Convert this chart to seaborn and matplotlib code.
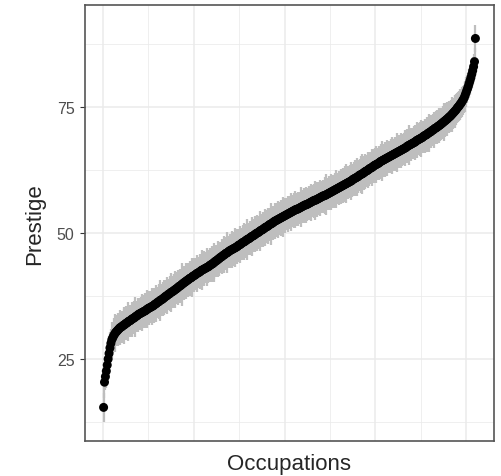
import matplotlib
matplotlib.use("Agg")
import matplotlib.pyplot as plt
import numpy as np
import pandas as pd
import seaborn as sns
from matplotlib.ticker import MultipleLocator, NullFormatter

# Prestige of each occupation, sorted (one per occupation)
prestige = [
    15.4, 20.4, 21.5, 22.6, 23.8, 25.0, 26.1, 27.2, 28.1, 28.8,
    29.2, 29.6, 29.9, 30.2, 30.4, 30.6, 30.8, 31.0, 31.2, 31.3,
    31.4, 31.6, 31.7, 31.8, 32.0, 32.1, 32.2, 32.4, 32.5, 32.6,
    32.7, 32.9, 33.0, 33.1, 33.2, 33.4, 33.5, 33.6, 33.8, 33.9,
    34.0, 34.1, 34.2, 34.3, 34.4, 34.5, 34.6, 34.7, 34.9, 35.0,
    35.1, 35.2, 35.3, 35.4, 35.5, 35.6, 35.8, 35.9, 36.0, 36.2,
    36.3, 36.4, 36.6, 36.7, 36.8, 36.9, 37.1, 37.2, 37.4, 37.5,
    37.6, 37.8, 37.9, 38.0, 38.2, 38.3, 38.4, 38.5, 38.7, 38.8,
    38.9, 39.1, 39.2, 39.4, 39.5, 39.6, 39.8, 39.9, 40.1, 40.2,
    40.3, 40.5, 40.6, 40.7, 40.9, 41.0, 41.1, 41.2, 41.4, 41.5,
    41.6, 41.7, 41.9, 42.0, 42.1, 42.2, 42.3, 42.5, 42.6, 42.7,
    42.8, 42.9, 43.0, 43.1, 43.2, 43.3, 43.4, 43.6, 43.7, 43.8,
    43.9, 44.1, 44.2, 44.4, 44.5, 44.6, 44.8, 44.9, 45.1, 45.2,
    45.3, 45.5, 45.6, 45.7, 45.9, 46.0, 46.1, 46.2, 46.4, 46.5,
    46.6, 46.7, 46.8, 46.9, 47.0, 47.1, 47.2, 47.3, 47.5, 47.6,
    47.7, 47.8, 48.0, 48.1, 48.2, 48.3, 48.4, 48.6, 48.7, 48.8,
    48.9, 49.0, 49.2, 49.3, 49.4, 49.5, 49.6, 49.8, 49.9, 50.0,
    50.1, 50.2, 50.4, 50.5, 50.6, 50.7, 50.8, 51.0, 51.1, 51.2,
    51.3, 51.4, 51.6, 51.7, 51.8, 51.9, 52.0, 52.2, 52.3, 52.4,
    52.5, 52.6, 52.7, 52.8, 52.9, 53.0, 53.1, 53.2, 53.3, 53.4,
    53.5, 53.6, 53.7, 53.8, 53.9, 54.0, 54.1, 54.2, 54.3, 54.4,
    54.5, 54.6, 54.7, 54.7, 54.8, 54.9, 55.0, 55.1, 55.2, 55.3,
    55.4, 55.5, 55.6, 55.6, 55.7, 55.8, 55.9, 56.0, 56.1, 56.2,
    56.3, 56.4, 56.5, 56.5, 56.6, 56.7, 56.8, 56.9, 57.0, 57.1,
    57.2, 57.3, 57.4, 57.4, 57.5, 57.6, 57.7, 57.8, 57.9, 58.0,
    58.1, 58.2, 58.3, 58.4, 58.5, 58.6, 58.7, 58.8, 58.9, 59.0,
    59.1, 59.2, 59.3, 59.4, 59.5, 59.6, 59.7, 59.8, 59.9, 60.0,
    60.1, 60.2, 60.3, 60.4, 60.6, 60.7, 60.8, 60.9, 61.0, 61.1,
    61.2, 61.4, 61.5, 61.6, 61.7, 61.8, 61.9, 62.1, 62.2, 62.3,
    62.4, 62.5, 62.7, 62.8, 62.9, 63.0, 63.1, 63.3, 63.4, 63.5,
    63.6, 63.7, 63.8, 63.9, 64.1, 64.2, 64.3, 64.4, 64.5, 64.6,
    64.7, 64.8, 64.9, 65.0, 65.1, 65.2, 65.3, 65.4, 65.5, 65.6,
    65.7, 65.8, 65.9, 66.0, 66.1, 66.2, 66.3, 66.4, 66.5, 66.6,
    66.7, 66.8, 66.9, 67.0, 67.2, 67.3, 67.4, 67.5, 67.6, 67.7,
    67.8, 67.9, 68.0, 68.1, 68.3, 68.4, 68.5, 68.6, 68.7, 68.8,
    68.9, 69.0, 69.2, 69.3, 69.4, 69.5, 69.6, 69.8, 69.9, 70.0,
    70.1, 70.3, 70.4, 70.5, 70.7, 70.8, 70.9, 71.0, 71.2, 71.3,
    71.4, 71.6, 71.7, 71.9, 72.0, 72.2, 72.3, 72.5, 72.6, 72.8,
    73.0, 73.1, 73.3, 73.5, 73.7, 73.9, 74.1, 74.3, 74.5, 74.8,
    75.0, 75.2, 75.5, 75.7, 76.0, 76.3, 76.6, 77.0, 77.5, 78.0,
    78.5, 79.0, 79.6, 80.2, 80.8, 81.5, 82.2, 83.0, 84.0, 88.6,
]

# Half-width of each grey interval (estimated from the jagged band)
half_width = [
    2.9, 3.1, 2.7, 3.3, 3.0, 2.8, 3.4, 3.1, 2.9, 3.6,
    3.0, 2.7, 3.2, 3.8, 2.9, 3.1, 3.3, 2.8, 3.5, 3.0,
    3.2, 2.9, 3.7, 3.1, 2.8, 3.4, 3.0, 3.9, 2.9, 3.2,
    3.1, 3.5, 2.8, 3.0, 3.3, 4.0, 3.1, 2.9, 3.4, 3.2,
    2.9, 3.3, 3.6, 3.0, 3.2, 2.8, 3.5, 3.1, 3.8, 3.0,
    3.3, 2.9, 3.1, 3.7, 3.0, 3.4, 3.2, 2.9, 3.6, 3.1,
    3.0, 3.4, 4.1, 3.1, 2.9, 3.3, 3.0, 3.5, 3.2, 2.8,
    3.6, 3.1, 3.0, 3.4, 3.9, 3.2, 2.9, 3.3, 3.1, 3.7,
    3.0, 3.2, 3.5, 2.9, 3.3, 3.1, 4.2, 3.0, 3.4, 3.2,
    3.1, 3.6, 3.0, 3.3, 2.9, 3.5, 3.2, 3.8, 3.0, 3.1,
    3.4, 3.0, 3.2, 3.7, 3.1, 2.9, 3.5, 3.3, 4.0, 3.1,
    3.2, 3.5, 3.0, 3.1, 3.8, 3.3, 2.9, 3.4, 3.2, 3.6,
    3.0, 3.3, 3.9, 3.1, 3.2, 3.0, 3.6, 3.4, 3.1, 2.9,
    3.5, 3.2, 3.0, 3.7, 3.3, 3.1, 4.1, 3.2, 3.0, 3.4,
    3.1, 3.6, 3.3, 2.9, 3.2, 3.8, 3.0, 3.5, 3.3, 3.1,
    3.7, 3.2, 3.0, 3.4, 3.1, 3.6, 3.3, 2.9, 4.0, 3.2,
    3.0, 3.4, 3.2, 3.8, 3.1, 3.3, 3.0, 3.6, 3.2, 3.5,
    3.3, 3.1, 3.9, 3.2, 3.0, 3.5, 3.4, 3.1, 3.7, 3.0,
    3.2, 3.6, 3.1, 3.3, 4.2, 3.0, 3.4, 3.2, 3.1, 3.5,
    3.0, 3.3, 3.7, 3.1, 3.2, 3.5, 3.0, 3.9, 3.3, 3.1,
    3.4, 3.1, 3.2, 3.6, 3.0, 3.3, 3.8, 3.1, 3.2, 3.5,
    3.1, 3.7, 3.0, 3.3, 3.4, 3.1, 3.2, 4.0, 3.0, 3.3,
    3.5, 3.2, 3.1, 3.6, 3.3, 2.9, 3.4, 3.2, 3.7, 3.0,
    3.2, 3.4, 3.9, 3.1, 3.0, 3.5, 3.3, 3.1, 3.6, 3.2,
    3.0, 3.3, 3.2, 3.7, 3.1, 4.1, 3.2, 3.0, 3.4, 3.3,
    3.6, 3.1, 3.3, 3.0, 3.5, 3.2, 3.8, 3.1, 3.0, 3.4,
    3.2, 3.5, 3.0, 3.4, 3.1, 3.3, 3.6, 3.9, 3.1, 3.2,
    3.0, 3.3, 3.7, 3.2, 3.1, 3.4, 3.0, 3.5, 3.2, 3.8,
    3.3, 3.1, 3.2, 3.6, 4.0, 3.1, 3.3, 3.0, 3.4, 3.2,
    3.1, 3.5, 3.3, 3.0, 3.2, 3.7, 3.1, 3.4, 3.0, 3.3,
    3.6, 3.2, 3.0, 3.3, 3.1, 3.5, 3.9, 3.2, 3.1, 3.4,
    3.0, 3.3, 3.6, 3.1, 3.2, 3.0, 3.4, 3.7, 3.2, 3.1,
    3.4, 3.1, 3.2, 3.8, 3.0, 3.3, 3.1, 3.5, 3.2, 3.0,
    3.2, 3.6, 3.1, 3.0, 3.4, 3.2, 4.0, 3.1, 3.3, 3.0,
    3.1, 3.3, 3.5, 3.2, 3.0, 3.6, 3.1, 3.2, 3.4, 3.7,
    3.0, 3.2, 3.1, 3.4, 3.3, 3.0, 3.5, 3.1, 3.8, 3.2,
    3.3, 3.0, 3.2, 3.6, 3.1, 3.0, 3.3, 3.4, 3.1, 3.5,
    3.1, 3.2, 3.0, 3.3, 3.7, 3.1, 3.0, 3.2, 3.4, 3.0,
    3.2, 3.0, 3.1, 3.4, 3.0, 2.9, 3.2, 3.1, 3.0, 2.9,
    3.0, 2.9, 3.1, 2.8, 3.0, 2.9, 2.8, 3.0, 2.7, 2.9,
    2.8, 2.7, 2.9, 2.8, 2.6, 2.8, 2.7, 2.6, 2.7, 2.6,
]

df = pd.DataFrame({"prestige": prestige, "hw": half_width})
df["rank"] = np.arange(1, len(df) + 1)
df["lo"] = df["prestige"] - df["hw"]
df["hi"] = df["prestige"] + df["hw"]

sns.set_style("white")
plt.rcParams["font.family"] = ["Liberation Sans", "DejaVu Sans"]

fig = plt.figure(figsize=(5.02, 4.77), dpi=100)
ax = fig.add_axes([85 / 502, 1 - 442 / 477, 409 / 502, 436 / 477])

# grey intervals first, points on top
ax.vlines(df["rank"], df["lo"], df["hi"], color="#BEBEBE", linewidth=1.6, zorder=2)
sns.scatterplot(data=df, x="rank", y="prestige", color="black", s=42,
                linewidth=0, edgecolor="none", ax=ax, zorder=3)

ax.set_xlim(-19.45, 430.45)
ax.set_ylim(8.73, 95.24)

# ggplot-ish grid
ax.xaxis.set_major_locator(MultipleLocator(100))
ax.xaxis.set_minor_locator(MultipleLocator(50))
ax.yaxis.set_major_locator(MultipleLocator(25))
ax.yaxis.set_minor_locator(MultipleLocator(12.5))
ax.grid(which="major", color="#EBEBEB", linewidth=1.1, zorder=0)
ax.grid(which="minor", color="#EBEBEB", linewidth=0.55, zorder=0)
ax.set_axisbelow(True)

ax.xaxis.set_major_formatter(NullFormatter())
ax.tick_params(axis="x", which="both", length=0)
ax.tick_params(axis="y", which="major", length=3.6, width=0.8, color="#333333",
               labelsize=11.5, labelcolor="#4D4D4D", pad=4, left=True)
ax.tick_params(axis="y", which="minor", length=0)

for sp in ax.spines.values():
    sp.set_color("#555555")
    sp.set_linewidth(1.2)
    sp.set_visible(True)

ax.set_xlabel("Occupations", fontsize=16, labelpad=5)
ax.set_ylabel("Prestige", fontsize=16, labelpad=8)

fig.savefig("out.png", dpi=100)
